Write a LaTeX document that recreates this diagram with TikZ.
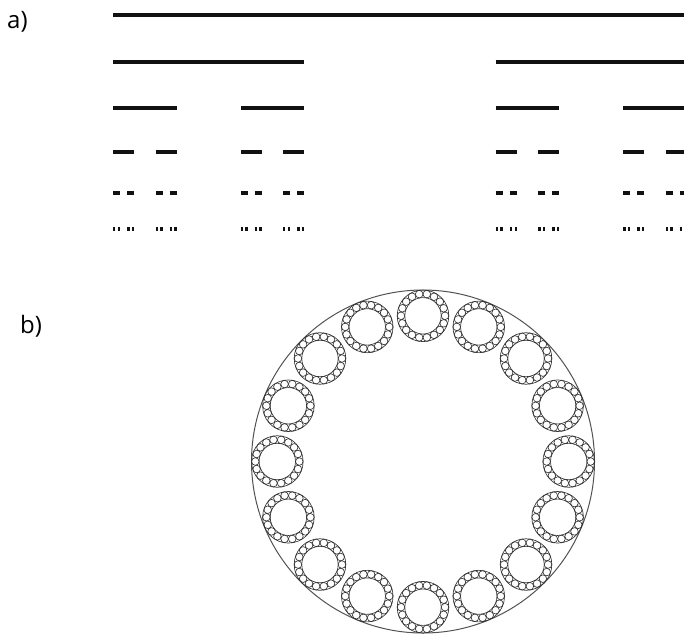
\documentclass[tikz,border=0pt]{standalone}
\usepackage{fontspec}
\setmainfont{Open Sans}
\definecolor{barink}{HTML}{111111}
\definecolor{ringink}{HTML}{333333}

% Cantor construction: one bar, then its two outer thirds one row lower
\newcommand\cantorbar[3]{%
  \pgfmathsetmacro\cbrowy{{15,62.3,108.3,152.3,193.3,228.7}[#3]}%
  \draw[cantorline] (#1,\cbrowy) -- ++(#2,0);%
  \ifnum#3<5
    \pgfmathsetmacro\cbthird{#2/3}%
    \pgfmathsetmacro\cbright{#1+2*#2/3}%
    \pgfmathtruncatemacro\cbnext{#3+1}%
    \edef\cbrecurse{\noexpand\cantorbar{#1}{\cbthird}{\cbnext}\noexpand\cantorbar{\cbright}{\cbthird}{\cbnext}}%
    \cbrecurse
  \fi
}

\begin{document}
\begin{tikzpicture}[x=1pt,y=-1pt,
  cantorline/.style={draw=barink,line width=4pt},
  ringline/.style={draw=ringink,line width=0.65pt},
  outerline/.style={draw=ringink!85,line width=1pt},
  panellabel/.style={font=\fontsize{24}{28}\selectfont,inner sep=0pt,anchor=base west}]
  \clip (0,0) rectangle (684,635);

  % panel labels
  \node[panellabel] (labela) at (7,28) {a)};
  \node[panellabel] (labelb) at (20,333) {b)};

  % a) Cantor set, six generations
  \cantorbar{113}{574}{0}

  % b) sixteen bearing-like rings inside a circle
  \coordinate (ctr) at (423,461.5);
  \draw[outerline] (ctr) circle[radius=171.5];
  \foreach \k in {0,...,15} {
    \begin{scope}[shift={({423+145.7*cos(90+22.5*\k)},{461.5-145.7*sin(90+22.5*\k)})}]
      \draw[ringline] (0,0) circle[radius=25.8] (0,0) circle[radius=18.2];
      \foreach \j in {0,...,17}
        \draw[ringline] (\j*20:22) circle[radius=3.8];
    \end{scope}
  }
\end{tikzpicture}
\end{document}
